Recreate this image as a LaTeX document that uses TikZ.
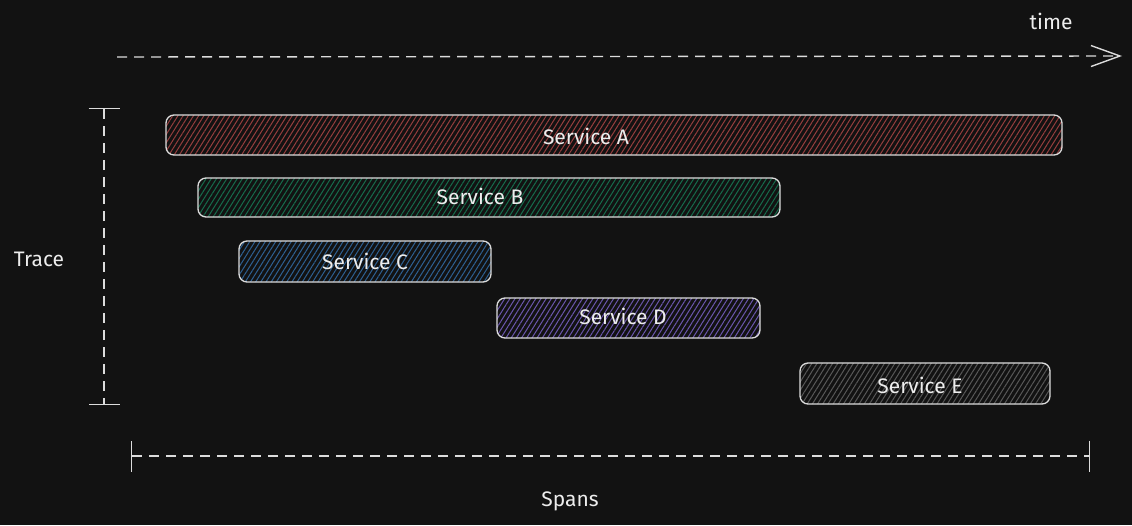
\documentclass[tikz,border=0pt]{standalone}
\usepackage{fontspec}
\setmainfont{Fira Sans}
\usepackage{xcolor}
\usetikzlibrary{arrows.meta, patterns.meta}

\definecolor{bgdark}{HTML}{121212}
\definecolor{edge}{HTML}{DCDCDC}
\definecolor{inkwhite}{HTML}{EDEDED}
\definecolor{hatchred}{RGB}{150,62,62}
\definecolor{hatchgreen}{RGB}{22,108,76}
\definecolor{hatchblue}{RGB}{46,96,146}
\definecolor{hatchpurple}{RGB}{106,86,172}
\definecolor{hatchgray}{RGB}{88,88,88}

\begin{document}
\begin{tikzpicture}[
    x=1pt, y=-1pt,
    spanbox/.style={draw=edge, line width=1.3pt, rounded corners=8pt, inner sep=0pt, minimum height=40pt,
        pattern={Lines[angle=58, distance=4.4pt, line width=1pt]}, pattern color=#1},
    svclabel/.style={text=inkwhite, font=\fontsize{21}{24}\selectfont},
    axislabel/.style={text=inkwhite, font=\fontsize{21}{24}\selectfont},
    dashline/.style={draw=edge, line width=1.4pt, dash pattern=on 10pt off 7pt}
]
\useasboundingbox[fill=bgdark] (0,0) rectangle (1132,525);

% spans
\node[spanbox=hatchred, minimum width=896pt] (svcA) at (614,135) {};
\node[spanbox=hatchgreen, minimum width=582pt, minimum height=39pt] (svcB) at (489,197.5) {};
\node[spanbox=hatchblue, minimum width=252pt, minimum height=41pt] (svcC) at (365,261.5) {};
\node[spanbox=hatchpurple, minimum width=263pt] (svcD) at (628.5,318) {};
\node[spanbox=hatchgray, minimum width=250pt, minimum height=41pt] (svcE) at (925,383.5) {};

\node[svclabel] (labA) at (586,136) {Service A};
\node[svclabel] (labB) at (480,196) {Service B};
\node[svclabel] (labC) at (365,261) {Service C};
\node[svclabel] (labD) at (623,316) {Service D};
\node[svclabel] (labE) at (920,385) {Service E};

% axes
\coordinate (timeStart) at (117,57);
\coordinate (timeEnd) at (1122,56);
\coordinate (traceTop) at (104,108);
\coordinate (traceBot) at (104,405);
\coordinate (spanLeft) at (131,456);
\coordinate (spanRight) at (1090,456);

\draw[dashline, -{Straight Barb[length=29pt, width=21pt, line width=1.4pt]}] (timeStart) -- (timeEnd);
\draw[dashline, {Bar[width=31pt, line width=1.4pt]}-{Bar[width=31pt, line width=1.4pt]}] (traceTop) -- (traceBot);
\draw[dashline, {Bar[width=31pt, line width=1.4pt]}-{Bar[width=31pt, line width=1.4pt]}] (spanLeft) -- (spanRight);

\node[axislabel] (timeLab) at (1051,21) {time};
\node[axislabel] (traceLab) at (39,259) {Trace};
\node[axislabel] (spansLab) at (570,501) {Spans};
\end{tikzpicture}
\end{document}
